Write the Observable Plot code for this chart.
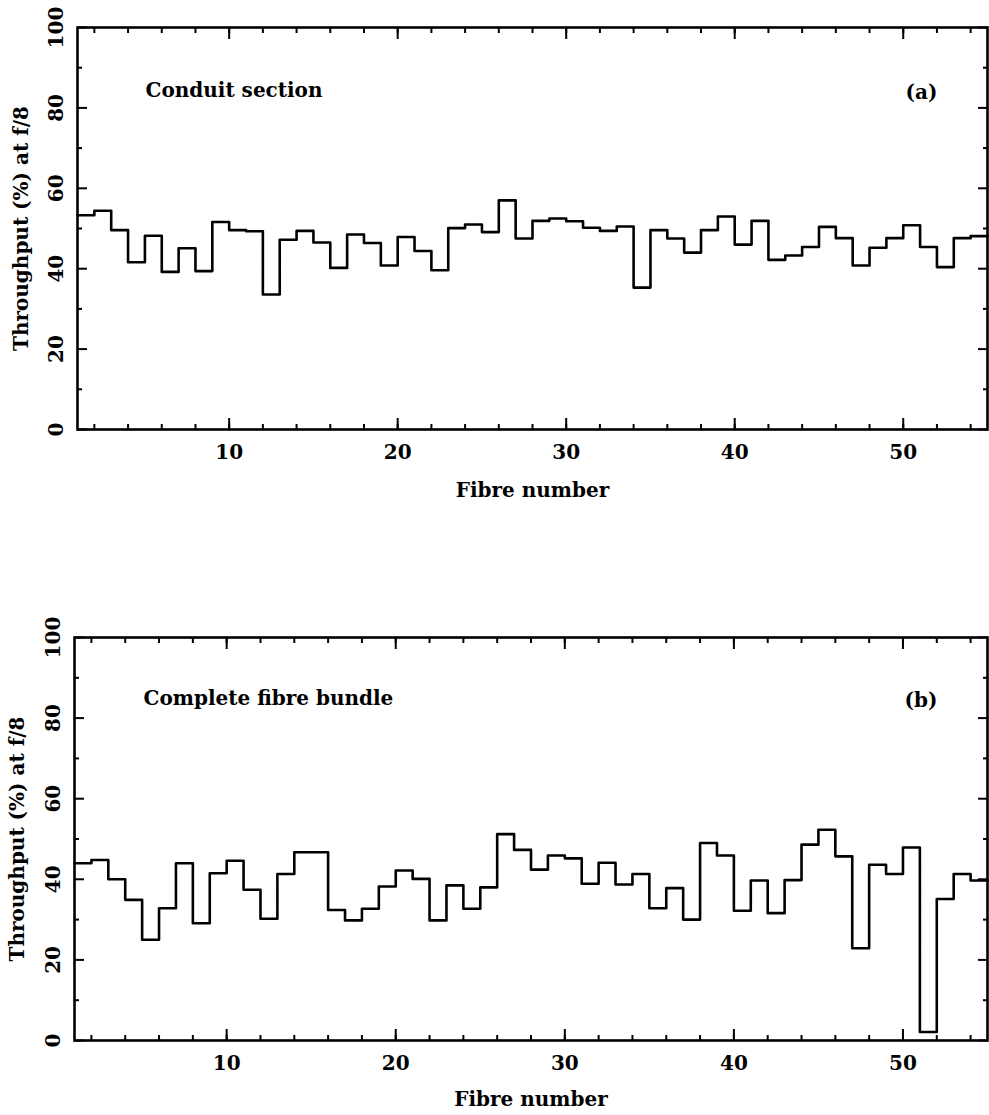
<!DOCTYPE html>
<html><head><meta charset="utf-8">
<script src="https://cdn.jsdelivr.net/npm/d3@7"></script>
<script src="https://cdn.jsdelivr.net/npm/@observablehq/plot@0.6"></script>
<style>
body{margin:0;background:#fff;}
#chart{width:989px;height:1115px;}
#chart svg{display:block;}
</style></head><body><div id="chart"></div>
<script>
// Fibre numbers (each bin spans fibre .. fibre+1)
const fibres = d3.range(1, 55);
// Panel (a): Conduit section throughput (%)
const conduit = [53.3,54.4,49.6,41.6,48.2,39.2,45.1,39.4,51.6,49.6,49.3,33.6,47.2,49.4,46.5,40.2,48.5,46.4,40.8,47.9,
  44.4,39.6,50.1,51.0,49.1,57.0,47.5,51.9,52.5,51.8,50.2,49.4,50.5,35.3,49.6,47.5,44.0,49.6,53.0,46.0,
  51.9,42.2,43.3,45.4,50.4,47.6,40.8,45.2,47.6,50.8,45.4,40.4,47.6,48.1];
// Panel (b): Complete fibre bundle throughput (%)
const bundle = [44.0,44.8,40.0,34.9,25.0,32.8,44.0,29.1,41.5,44.6,37.4,30.2,41.3,46.7,46.7,32.4,29.8,32.7,38.2,42.2,
  40.1,29.8,38.5,32.7,38.0,51.2,47.3,42.4,45.9,45.2,38.9,44.1,38.7,41.3,32.8,37.8,30.0,49.0,45.9,32.2,
  39.7,31.6,39.8,48.6,52.3,45.7,22.9,43.6,41.3,47.9,2.1,35.1,41.3,39.7];
const xMajorTicks = [10, 20, 30, 40, 50];
const xMinorTicks = d3.range(2, 55, 2);
const yMajorTicks = [0, 20, 40, 60, 80, 100];
const yMinorTicks = [10, 30, 50, 70, 90];
const xLabel = "Fibre number";
const yLabel = "Throughput (%) at f/8";
const panelTitles = ["Conduit section", "Complete fibre bundle"];
const panelTags = ["(a)", "(b)"];

const FONT = "DejaVu Serif";
const FS = 20;

function panel(values, title, tag, m) {
  const steps = values.map((v, i) => ({x: fibres[i], y: v}));
  steps.push({x: fibres[fibres.length - 1] + 1, y: values[values.length - 1]});
  const txt = {fontFamily: FONT, fontSize: FS, fontWeight: "bold", fill: "#000"};
  return Plot.plot({
    width: 989, height: m.height,
    marginTop: m.top, marginBottom: m.bottom, marginLeft: m.left, marginRight: 2,
    style: {background: "#fff", color: "#000"},
    x: {domain: [1, 55]},
    y: {domain: [0, 100]},
    marks: [
      // inward ticks on all four sides
      Plot.axisX(xMinorTicks, {anchor: "bottom", tickSize: -5, strokeWidth: 2, tickFormat: () => "", label: null}),
      Plot.axisX(xMajorTicks, {anchor: "bottom", tickSize: -11, strokeWidth: 2, tickFormat: () => "", label: null}),
      Plot.axisX(xMinorTicks, {anchor: "top", tickSize: -5, strokeWidth: 2, tickFormat: () => "", label: null}),
      Plot.axisX(xMajorTicks, {anchor: "top", tickSize: -11, strokeWidth: 2, tickFormat: () => "", label: null}),
      Plot.axisY(yMinorTicks, {anchor: "left", tickSize: -5, strokeWidth: 2, tickFormat: () => "", label: null}),
      Plot.axisY(yMajorTicks, {anchor: "left", tickSize: -10, strokeWidth: 2, tickFormat: () => "", label: null}),
      Plot.axisY(yMinorTicks, {anchor: "right", tickSize: -5, strokeWidth: 2, tickFormat: () => "", label: null}),
      Plot.axisY(yMajorTicks, {anchor: "right", tickSize: -10, strokeWidth: 2, tickFormat: () => "", label: null}),
      // tick labels
      Plot.axisX(xMajorTicks, {anchor: "bottom", tickSize: 0, tickPadding: 15, label: null, ...txt}),
      Plot.axisY(yMajorTicks, {anchor: "left", tickSize: 0, tickPadding: 15, tickRotate: -90, label: null, ...txt}),
      Plot.frame({stroke: "#000", strokeWidth: 2.6}),
      Plot.line(steps, {x: "x", y: "y", curve: "step-after", stroke: "#000", strokeWidth: 2.6}),
      Plot.text([xLabel], {frameAnchor: "bottom", dy: m.xlab, ...txt}),
      Plot.text([yLabel], {frameAnchor: "left", dx: -m.ylab, rotate: -90, textAnchor: "middle", ...txt}),
      Plot.text([title], {frameAnchor: "top-left", dx: m.tx, dy: m.ty, textAnchor: "start", ...txt}),
      Plot.text([tag], {frameAnchor: "top-right", dx: -50, dy: m.ty + 2, textAnchor: "end", ...txt})
    ]
  });
}

const root = document.getElementById("chart");
root.appendChild(panel(conduit, panelTitles[0], panelTags[0],
  {height: 520, top: 27, bottom: 91, left: 77, xlab: 67, ylab: 56, tx: 68, ty: 55}));
root.appendChild(panel(bundle, panelTitles[1], panelTags[1],
  {height: 595, top: 117, bottom: 75, left: 74, xlab: 65, ylab: 57, tx: 69, ty: 53}));
</script></body></html>
